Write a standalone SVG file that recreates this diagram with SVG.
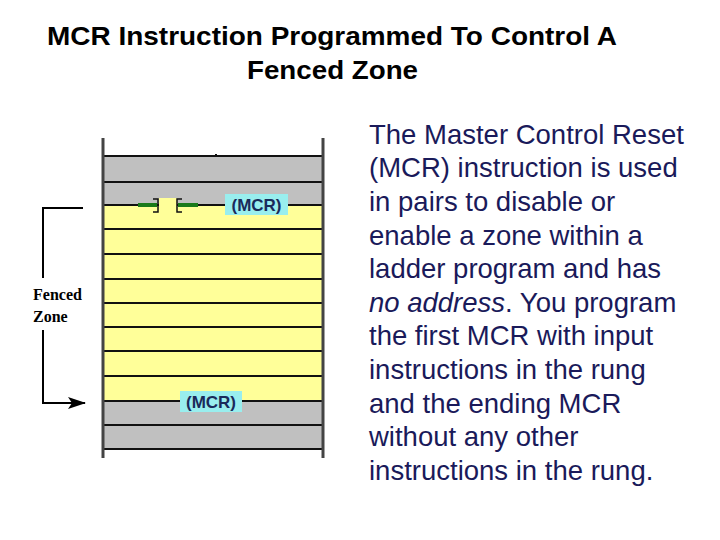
<svg xmlns="http://www.w3.org/2000/svg" width="720" height="540" viewBox="0 0 720 540">
<style>
.t{font-family:"Liberation Sans",Arial,sans-serif;font-weight:bold;font-size:25px;fill:#000}
.b{font-family:"Liberation Sans",Arial,sans-serif;font-size:27.5px;fill:#1a1a5a}
.r{stroke:#111;stroke-width:2}
.m{font-family:"Liberation Sans",Arial,sans-serif;font-weight:bold;font-size:17px;fill:#1a2a5a}
.f{font-family:"Liberation Serif","Times New Roman",serif;font-weight:bold;font-size:16px}
</style>
<defs><marker id="ah" markerWidth="18" markerHeight="12" refX="17" refY="6" orient="auto" markerUnits="userSpaceOnUse"><path d="M0,0 L18,6 L0,12 L4,6 Z" fill="#000"/></marker></defs>
<rect width="720" height="540" fill="#fff"/>
<text class="t" x="47" y="45" textLength="570" lengthAdjust="spacingAndGlyphs">MCR Instruction Programmed To Control A</text>
<text class="t" x="247" y="79" textLength="171" lengthAdjust="spacingAndGlyphs">Fenced Zone</text>
<g id="ladder">
<rect x="103" y="157" width="220" height="24" fill="#c0c0c0"/>
<rect x="103" y="183" width="220" height="22" fill="#c0c0c0"/>
<rect x="103" y="206" width="220" height="195" fill="#ffff99"/>
<rect x="103" y="402" width="220" height="22" fill="#c0c0c0"/>
<rect x="103" y="426" width="220" height="23" fill="#c0c0c0"/>
<g class="r">
<line x1="103" y1="156" x2="323" y2="156"/><line x1="103" y1="182" x2="323" y2="182"/>
<line x1="103" y1="205" x2="323" y2="205"/><line x1="103" y1="229" x2="323" y2="229"/>
<line x1="103" y1="254" x2="323" y2="254"/><line x1="103" y1="279" x2="323" y2="279"/>
<line x1="103" y1="303" x2="323" y2="303"/><line x1="103" y1="327" x2="323" y2="327"/>
<line x1="103" y1="351" x2="323" y2="351"/><line x1="103" y1="376" x2="323" y2="376"/>
<line x1="103" y1="401" x2="323" y2="401"/><line x1="103" y1="425" x2="323" y2="425"/>
<line x1="103" y1="449" x2="323" y2="449"/>
</g>
<line x1="103" y1="138" x2="103" y2="458" stroke="#444" stroke-width="3"/>
<line x1="323" y1="138" x2="323" y2="458" stroke="#444" stroke-width="3"/>
<line x1="216" y1="154" x2="216" y2="157" stroke="#111" stroke-width="2"/>
</g>
<g id="contact">
<rect x="159" y="198" width="18" height="14" fill="#ffff99"/>
<line x1="138" y1="205" x2="157" y2="205" stroke="#1a7a1a" stroke-width="4"/>
<line x1="178" y1="205" x2="198" y2="205" stroke="#1a7a1a" stroke-width="4"/>
<path d="M153,199 H158 V212 H153 M182,199 H177 V212 H182" fill="none" stroke="#111" stroke-width="1.5"/>
</g>
<g id="mcr1"><rect x="225" y="194" width="63" height="21" fill="#99eeee"/><text class="m" x="256.5" y="211" text-anchor="middle">(MCR)</text></g>
<g id="mcr2"><rect x="180" y="391" width="62" height="21" fill="#99eeee"/><text class="m" x="211" y="408" text-anchor="middle">(MCR)</text></g>
<g id="connectors" fill="none" stroke="#000" stroke-width="2">
<path d="M83,208 H43 V278"/>
<path d="M43,330 V403 H85" marker-end="url(#ah)"/>
</g>
<g id="fence"><text class="f" x="33" y="300">Fenced</text><text class="f" x="33" y="322">Zone</text></g>
<g id="desc">
<text class="b" x="369" y="144">The Master Control Reset</text>
<text class="b" x="369" y="177">(MCR) instruction is used</text>
<text class="b" x="369" y="211">in pairs to disable or</text>
<text class="b" x="369" y="245">enable a zone within a</text>
<text class="b" x="369" y="278">ladder program and has</text>
<text class="b" x="369" y="312"><tspan font-style="italic">no address</tspan>. You program</text>
<text class="b" x="369" y="345">the first MCR with input</text>
<text class="b" x="369" y="379">instructions in the rung</text>
<text class="b" x="369" y="413">and the ending MCR</text>
<text class="b" x="369" y="446">without any other</text>
<text class="b" x="369" y="480">instructions in the rung.</text>
</g>
</svg>
